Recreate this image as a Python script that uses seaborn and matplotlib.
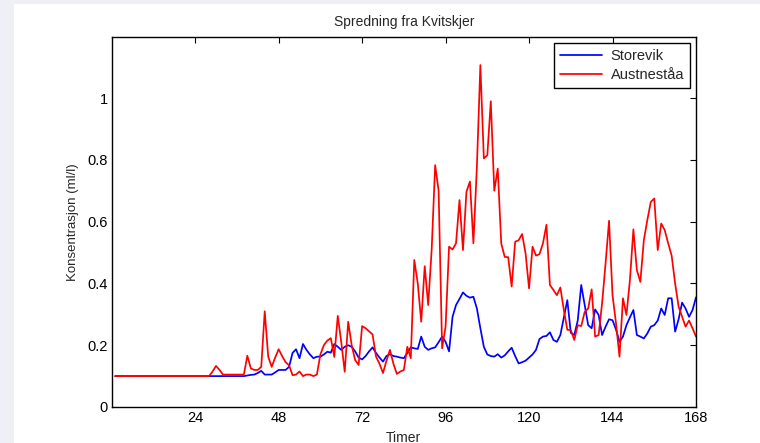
import numpy as np
import pandas as pd
import matplotlib
matplotlib.use("Agg")
import matplotlib.pyplot as plt
from matplotlib.patches import Rectangle
import seaborn as sns

hours = list(range(1, 169))

storevik = (
    [0.10] * 38 +
    [0.102, 0.104, 0.105, 0.11, 0.117, 0.105, 0.105, 0.105, 0.112, 0.12,   # 39-48
     0.12, 0.12, 0.13, 0.175, 0.187, 0.158, 0.204, 0.185, 0.17, 0.158,     # 49-58
     0.163, 0.163, 0.17, 0.179, 0.176, 0.204, 0.195, 0.185, 0.195, 0.2,    # 59-68
     0.195, 0.18, 0.16, 0.154, 0.165, 0.18, 0.193, 0.175, 0.16, 0.147,     # 69-78
     0.165, 0.171, 0.165, 0.163, 0.16, 0.158, 0.175, 0.193, 0.19, 0.188,   # 79-88
     0.228, 0.195, 0.185, 0.19, 0.193, 0.21, 0.228, 0.211, 0.18, 0.292,    # 89-98
     0.33, 0.35, 0.371, 0.36, 0.354, 0.357, 0.319, 0.255, 0.195, 0.17,     # 99-108
     0.165, 0.163, 0.171, 0.16, 0.167, 0.18, 0.192, 0.165, 0.141, 0.145,   # 109-118
     0.15, 0.16, 0.17, 0.185, 0.22, 0.228, 0.23, 0.242, 0.217, 0.211,      # 119-128
     0.233, 0.29, 0.346, 0.24, 0.233, 0.28, 0.395, 0.33, 0.265, 0.255,     # 129-138
     0.316, 0.298, 0.233, 0.26, 0.284, 0.281, 0.251, 0.211, 0.228, 0.265,  # 139-148
     0.29, 0.314, 0.233, 0.228, 0.222, 0.238, 0.26, 0.265, 0.28, 0.319,    # 149-158
     0.298, 0.352, 0.352, 0.244, 0.284, 0.338, 0.319, 0.292, 0.314, 0.355] # 159-168
)

austnestaa = (
    [0.10] * 28 +
    [0.115, 0.133, 0.12, 0.105, 0.105, 0.105, 0.105, 0.105, 0.105, 0.105,  # 29-38
     0.166, 0.125, 0.12, 0.12, 0.13, 0.31, 0.163, 0.13, 0.16, 0.187,       # 39-48
     0.165, 0.145, 0.135, 0.103, 0.105, 0.115, 0.10, 0.105, 0.105, 0.10,   # 49-58
     0.105, 0.17, 0.2, 0.215, 0.223, 0.162, 0.295, 0.21, 0.114, 0.276,     # 59-68
     0.2, 0.152, 0.136, 0.262, 0.255, 0.245, 0.235, 0.163, 0.14, 0.11,     # 69-78
     0.15, 0.185, 0.14, 0.107, 0.115, 0.12, 0.195, 0.158, 0.476, 0.40,     # 79-88
     0.276, 0.456, 0.33, 0.51, 0.783, 0.70, 0.19, 0.26, 0.519, 0.51,       # 89-98
     0.53, 0.67, 0.508, 0.697, 0.73, 0.53, 0.778, 1.107, 0.805, 0.815,     # 99-108
     0.99, 0.70, 0.772, 0.53, 0.486, 0.485, 0.39, 0.535, 0.54, 0.56,       # 109-118
     0.497, 0.384, 0.519, 0.49, 0.495, 0.53, 0.59, 0.395, 0.379, 0.362,   # 119-128
     0.387, 0.314, 0.25, 0.249, 0.217, 0.265, 0.262, 0.308, 0.319, 0.381,  # 129-138
     0.228, 0.233, 0.336, 0.465, 0.603, 0.362, 0.271, 0.163, 0.352, 0.298, # 139-148
     0.411, 0.575, 0.443, 0.405, 0.54, 0.605, 0.664, 0.675, 0.508, 0.594,  # 149-158
     0.573, 0.53, 0.49, 0.40, 0.325, 0.292, 0.26, 0.28, 0.255, 0.228]      # 159-168
)

series_names = ["Storevik", "Austneståa"]
series_colors = ["#0000ff", "#ff0000"]
x_ticks = [24, 48, 72, 96, 120, 144, 168]
y_ticks = [0, 0.2, 0.4, 0.6, 0.8, 1.0]
y_tick_labels = ["0", "0.2", "0.4", "0.6", "0.8", "1"]

df = pd.DataFrame({
    "Timer": hours * 2,
    "Konsentrasjon": storevik + austnestaa,
    "Serie": [series_names[0]] * len(hours) + [series_names[1]] * len(hours),
})

sns.set_style("white")
plt.rcParams["font.family"] = ["Liberation Sans", "DejaVu Sans"]
plt.rcParams["font.size"] = 10

fig = plt.figure(figsize=(7.6, 4.43), dpi=100)
fig.patch.set_facecolor("white")
# light grey frame strips (top and left)
fig.add_artist(Rectangle((0, 0), 14 / 760, 1, transform=fig.transFigure,
                         facecolor="#eef0f6", edgecolor="none", zorder=-10))
fig.add_artist(Rectangle((0, 1 - 4 / 443), 1, 4 / 443, transform=fig.transFigure,
                         facecolor="#eef0f6", edgecolor="none", zorder=-10))

ax = fig.add_axes([111.7 / 760, 36 / 443, (696 - 111.7) / 760, (407 - 37.3) / 443])

sns.lineplot(data=df, x="Timer", y="Konsentrasjon", hue="Serie",
             palette=dict(zip(series_names, series_colors)),
             linewidth=1.25, ax=ax, legend=True)

ax.set_xlim(0, 168)
ax.set_ylim(0, 1.197)
ax.set_xticks(x_ticks)
ax.set_xticklabels([str(t) for t in x_ticks])
ax.set_yticks(y_ticks)
ax.set_yticklabels(y_tick_labels)
ax.tick_params(direction="in", length=4, width=0.8, top=True, right=True,
               labelsize=10.5, colors="black", pad=3)
for s in ax.spines.values():
    s.set_color("black")
    s.set_linewidth(1.0)

ax.set_title("Spredning fra Kvitskjer", fontsize=10, pad=8)
ax.set_xlabel("Timer", fontsize=10, labelpad=4)
ax.set_ylabel("Konsentrasjon (ml/l)", fontsize=9.5, labelpad=6)

leg = ax.legend(loc="upper right", fontsize=10.5, frameon=True, fancybox=False,
                edgecolor="black", framealpha=1, handlelength=2.9,
                handletextpad=0.6, borderaxespad=0.4, labelspacing=0.35,
                borderpad=0.4)
leg.get_frame().set_linewidth(1.0)

fig.savefig("out.png", dpi=100)
